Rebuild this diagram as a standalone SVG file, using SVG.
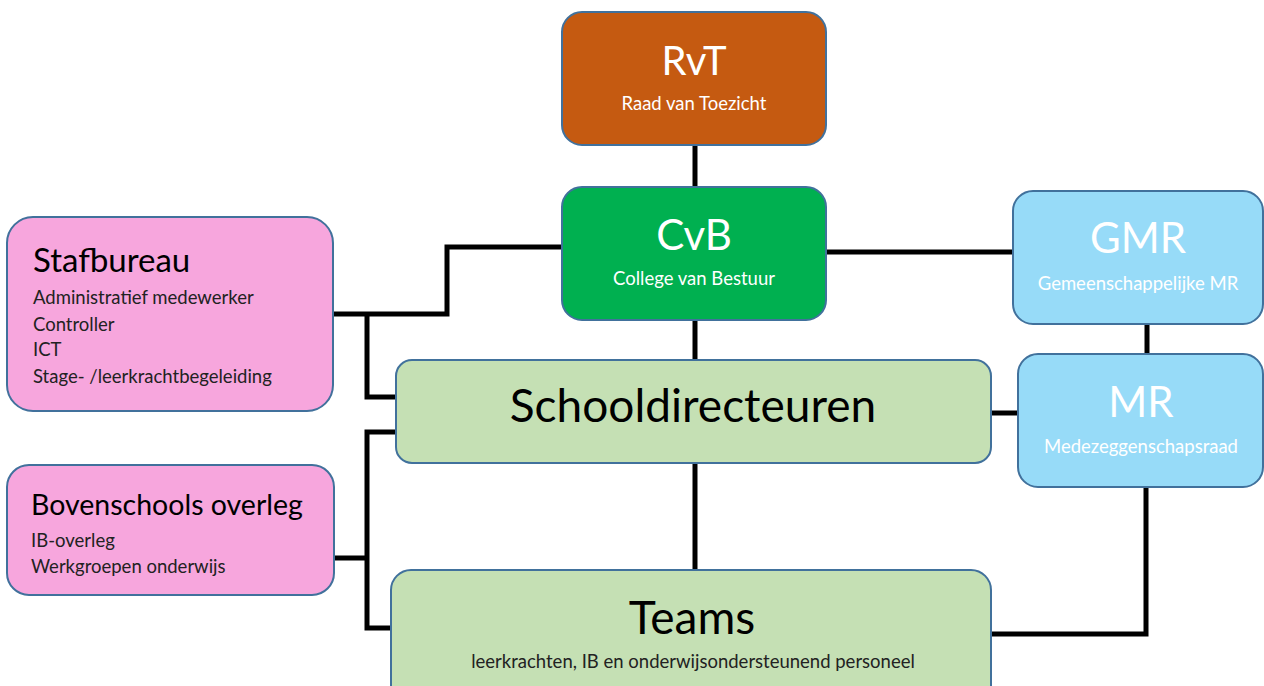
<svg xmlns="http://www.w3.org/2000/svg" width="1264" height="686" viewBox="0 0 1264 686">
<style>
.box{stroke:#41719C;stroke-width:2}
.c{fill:none;stroke:#000;stroke-width:5;stroke-linejoin:miter;stroke-linecap:butt}
text{font-family:Lato,"Open Sans","Liberation Sans",sans-serif}
.w{fill:#fff}
.k{fill:#000}
.big{font-size:42px}
.huge{font-size:46px}
.sm{font-size:18.5px}
.m{text-anchor:middle}
</style>
<rect width="1264" height="686" fill="#fff"/>
<g id="connectors">
<path class="c" d="M695 145V187"/>
<path class="c" d="M695 320V360"/>
<path class="c" d="M695 463V570"/>
<path class="c" d="M562 247H447V314H333"/>
<path class="c" d="M367 314V397H396"/>
<path class="c" d="M826 252H1013"/>
<path class="c" d="M1147 324V354"/>
<path class="c" d="M991 413H1018"/>
<path class="c" d="M1146 487V634H991"/>
<path class="c" d="M334 558H367"/>
<path class="c" d="M396 432H367V628H391"/>
</g>
<g id="rvt">
<rect class="box" x="562" y="12" width="264" height="133" rx="20" fill="#C55A11"/>
<text class="w m" style="font-size:40px" x="694" y="75">RvT</text>
<text class="w sm m" x="694" y="110">Raad van Toezicht</text>
</g>
<g id="cvb">
<rect class="box" x="562" y="187" width="264" height="133" rx="20" fill="#00B050"/>
<text class="w big m" x="694" y="250">CvB</text>
<text class="w sm m" x="694" y="285">College van Bestuur</text>
</g>
<g id="gmr">
<rect class="box" x="1013" y="191" width="250" height="133" rx="20" fill="#97DBF8"/>
<text class="w big m" x="1138" y="253">GMR</text>
<text class="w sm m" x="1138" y="290">Gemeenschappelijke MR</text>
</g>
<g id="mr">
<rect class="box" x="1018" y="354" width="245" height="133" rx="20" fill="#97DBF8"/>
<text class="w big m" x="1141" y="417">MR</text>
<text class="w sm m" x="1141" y="453">Medezeggenschapsraad</text>
</g>
<g id="stafbureau">
<rect class="box" x="7" y="217" width="326" height="194" rx="26" fill="#F7A6DD"/>
<text class="k" style="font-size:33px" x="33" y="272">Stafbureau</text>
<text class="sm" fill="#222" x="33" y="304">Administratief medewerker</text>
<text class="sm" fill="#222" x="33" y="331">Controller</text>
<text class="sm" fill="#222" x="33" y="356">ICT</text>
<text class="sm" fill="#222" x="33" y="383">Stage- /leerkrachtbegeleiding</text>
</g>
<g id="bovenschools">
<rect class="box" x="7" y="465" width="327" height="130" rx="22" fill="#F7A6DD"/>
<text class="k" style="font-size:28.5px" x="31" y="515">Bovenschools overleg</text>
<text class="sm" fill="#222" x="31" y="547">IB-overleg</text>
<text class="sm" fill="#222" x="31" y="573">Werkgroepen onderwijs</text>
</g>
<g id="schooldirecteuren">
<rect class="box" x="396" y="360" width="595" height="103" rx="16" fill="#C5E0B4"/>
<text class="k huge m" x="693" y="422">Schooldirecteuren</text>
</g>
<g id="teams">
<rect class="box" x="391" y="570" width="600" height="140" rx="20" fill="#C5E0B4"/>
<text class="k huge m" x="692" y="634">Teams</text>
<text class="sm m" fill="#222" x="693" y="668">leerkrachten, IB en onderwijsondersteunend personeel</text>
</g>
</svg>
